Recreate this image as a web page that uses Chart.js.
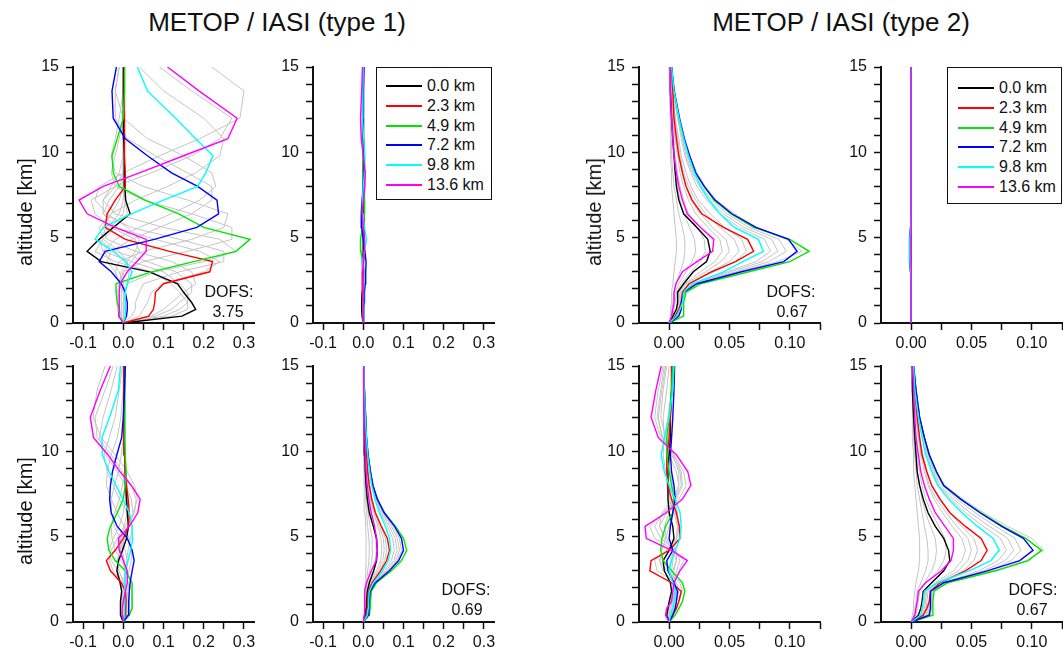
<!DOCTYPE html>
<html>
<head>
<meta charset="utf-8">
<script src="https://cdn.jsdelivr.net/npm/chart.js@4.4.0/dist/chart.umd.min.js"></script>
<style>
  body { margin: 0; width: 1063px; height: 652px; overflow: hidden; background: #fff; position: relative;
         font-family: "Liberation Sans", Arial, sans-serif; color: #111; }
  canvas { position: absolute; }
  .txt { position: absolute; white-space: nowrap; }
  .title { font-size: 26px; line-height: 26px; width: 560px; text-align: center; }
  .ylab { font-size: 20px; line-height: 20px; transform: translate(-50%, -50%) rotate(-90deg); }
  .dofs { font-size: 16px; line-height: 16px; width: 80px; text-align: center; }
  .legend { position: absolute; border: 1px solid #111; background: #fff; box-sizing: border-box; z-index: 5; }
  .legend .row { position: absolute; font-size: 16px; line-height: 16px; }
  .legend .swatch { position: absolute; height: 2px; }
</style>
</head>
<body>
<script>
/* Averaging kernels, METOP / IASI type 1 and type 2
   one profile per level, x = kernel value, y = altitude */

// ─── Data ────────────────────────────────────────────────────────────
const altitudeKm = [0, 0.4, 0.8, 1.2, 1.8, 2.3, 3.0, 3.6, 4.2, 4.9, 5.6, 6.4, 7.2, 8.0, 8.8, 9.8, 10.8, 12.0, 13.6, 15.0];

const legendLabels = ['0.0 km', '2.3 km', '4.9 km', '7.2 km', '9.8 km', '13.6 km'];
const kernelColors = ['#000000', '#ff0000', '#00e600', '#0000ff', '#00ffff', '#ff00ff'];

const yTicks = [0, 1, 2, 3, 4, 5, 6, 7, 8, 9, 10, 11, 12, 13, 14, 15];
const yLabels = ['0', '', '', '', '', '5', '', '', '', '', '10', '', '', '', '', '15'];
const xTicksType1 = [-0.1, -0.05, 0, 0.05, 0.1, 0.15, 0.2, 0.25, 0.3];
const xLabelsType1 = ['-0.1', '', '0.0', '', '0.1', '', '0.2', '', '0.3'];
const xTicksType2 = [0, 0.025, 0.05, 0.075, 0.1, 0.125];
const xLabelsType2 = ['0.00', '', '0.05', '', '0.10', ''];

// type 1, upper left (coloured: 0.0, 2.3, 4.9, 7.2, 9.8, 13.6 km)
const t1UpperLeft = [
    [0, 0.146, 0.18, 0.17, 0.15, 0.135, 0.065, -0.055, -0.09, -0.06, -0.025, 0.017, 0.006, 0.004, 0.003, 0.002, 0.001, 0.001, 0, 0],
    [0, 0.063, 0.075, 0.078, 0.08, 0.1, 0.215, 0.222, 0.115, 0.005, -0.045, -0.04, -0.02, 0.005, 0.005, 0.003, 0.003, 0.003, 0.003, 0.003],
    [0, -0.01, -0.01, -0.015, -0.018, -0.018, 0.07, 0.175, 0.28, 0.315, 0.2, 0.138, 0.054, -0.01, -0.025, -0.028, -0.015, 0, 0.003, 0.003],
    [0, 0.008, 0.01, 0.01, 0.005, -0.005, -0.03, -0.06, -0.045, 0.077, 0.183, 0.237, 0.233, 0.185, 0.12, 0.06, 0.005, -0.025, -0.028, -0.017],
    [0, 0.005, 0.005, 0.005, 0.005, 0.01, 0.022, 0.005, -0.025, -0.07, -0.05, 0.02, 0.1, 0.185, 0.205, 0.223, 0.18, 0.13, 0.06, 0.035],
    [0, -0.012, -0.01, -0.01, -0.01, -0.008, 0.01, 0.034, 0.057, 0.057, -0.02, -0.09, -0.11, -0.05, 0.04, 0.15, 0.26, 0.283, 0.188, 0.11]
];
const t1UpperLeftGray = [
    [0, 0.12, 0.16, 0.16, 0.14, 0.12, 0.07, -0.02, -0.07, -0.05, -0.02, 0.01, 0.005, 0, 0, 0, 0, 0, 0, 0],
    [0, 0.1, 0.14, 0.16, 0.16, 0.14, 0.1, 0.02, -0.05, -0.06, -0.03, 0, 0.005, 0, 0, 0, 0, 0, 0, 0],
    [0, 0.08, 0.12, 0.14, 0.17, 0.17, 0.13, 0.06, -0.02, -0.06, -0.04, -0.01, 0, 0, 0, 0, 0, 0, 0, 0],
    [0, 0.07, 0.1, 0.12, 0.15, 0.18, 0.17, 0.12, 0.03, -0.04, -0.05, -0.03, -0.01, 0, 0, 0, 0, 0, 0, 0],
    [0, 0.04, 0.05, 0.06, 0.07, 0.1, 0.2, 0.24, 0.19, 0.08, -0.02, -0.05, -0.035, -0.01, 0.005, 0.003, 0.002, 0, 0, 0],
    [0, 0.02, 0.03, 0.03, 0.04, 0.05, 0.14, 0.25, 0.25, 0.14, 0.02, -0.05, -0.05, -0.02, 0, 0.003, 0.002, 0, 0, 0],
    [0, 0, 0, 0, 0, 0.01, 0.08, 0.2, 0.28, 0.24, 0.1, -0.02, -0.05, -0.03, -0.01, 0, 0, 0, 0, 0],
    [0, -0.01, -0.015, -0.015, -0.015, -0.01, 0, 0.05, 0.16, 0.27, 0.27, 0.17, 0.05, -0.02, -0.03, -0.02, -0.01, 0, 0, 0],
    [0, -0.005, -0.01, -0.01, -0.01, -0.01, -0.02, -0.01, 0.05, 0.17, 0.25, 0.26, 0.16, 0.05, -0.02, -0.03, -0.02, -0.01, 0, 0],
    [0, 0.005, 0.005, 0.005, 0, -0.01, -0.02, -0.04, -0.03, 0.02, 0.09, 0.17, 0.22, 0.22, 0.16, 0.08, 0.01, -0.02, -0.02, -0.01],
    [0, 0.005, 0.005, 0.005, 0.005, 0, -0.01, -0.03, -0.05, -0.02, 0.04, 0.12, 0.19, 0.23, 0.22, 0.15, 0.06, 0, -0.02, -0.01],
    [0, 0, 0, 0, 0.005, 0.01, 0.015, 0.01, -0.01, -0.05, -0.06, -0.03, 0.03, 0.11, 0.18, 0.24, 0.25, 0.2, 0.1, 0.04],
    [0, -0.005, -0.005, -0.005, -0.005, 0, 0, 0.02, 0.04, 0.03, -0.03, -0.07, -0.08, -0.02, 0.07, 0.17, 0.24, 0.27, 0.17, 0.09],
    [0, -0.005, -0.01, -0.01, -0.01, -0.01, -0.005, 0.01, 0.03, 0.04, 0.01, -0.04, -0.07, -0.06, 0, 0.09, 0.19, 0.29, 0.3, 0.22]
];

// type 1, upper right
const t1UpperRight = [
    [0, -0.003, -0.004, -0.004, -0.003, -0.002, -0.002, -0.001, 0, 0, 0, 0, 0, 0, 0, 0, 0, 0, 0, 0],
    [0, 0.001, 0.001, 0, -0.002, -0.003, -0.002, 0.001, 0.003, 0.003, 0.002, 0.003, 0.004, 0.002, 0, 0, 0.001, 0.001, 0, 0],
    [0, 0, 0, 0, 0, 0.001, 0.002, -0.002, -0.006, -0.007, -0.002, 0.003, 0.003, 0.001, 0, -0.001, 0, 0, 0, 0],
    [0, 0.001, 0.001, 0.002, 0.003, 0.005, 0.006, 0.007, 0.004, 0, -0.004, -0.005, -0.003, 0, 0.002, 0.002, 0.001, 0, 0.001, 0.002],
    [0, 0.001, 0.001, 0.001, 0.001, 0.001, 0, -0.002, 0.003, 0.008, 0.003, -0.001, -0.002, 0, 0.003, 0.004, 0.001, -0.002, -0.001, 0],
    [0, 0, 0, 0, 0, 0, 0, 0, 0.002, 0.003, 0, -0.003, 0, 0.004, 0.005, 0, -0.005, -0.007, -0.004, -0.002]
];
const t1UpperRightGray = [
    [0, -0.002, -0.003, -0.003, -0.002, 0, 0.002, 0.002, 0.001, 0, 0, 0, 0, 0, 0, 0, 0, 0, 0, 0],
    [0, 0, 0.001, 0.002, 0.003, 0.004, 0.002, -0.001, -0.003, -0.002, 0, 0.001, 0.001, 0, 0, 0, 0, 0, 0, 0],
    [0, 0, 0, 0, 0, 0, -0.002, -0.005, -0.003, 0.002, 0.004, 0.002, -0.001, -0.002, 0, 0.001, 0, 0, 0, 0],
    [0, 0, 0, 0, 0, 0, 0, 0.001, 0.002, 0.001, -0.002, -0.003, -0.001, 0.002, 0.003, 0.001, -0.003, -0.004, -0.003, -0.001]
];

// type 1, lower left
const t1LowerLeft = [
    [0, -0.007, -0.008, -0.006, -0.004, -0.008, -0.016, -0.012, -0.002, 0.008, 0.013, 0.01, 0.008, 0.006, 0.005, 0.004, 0.003, 0.002, 0.002, 0.002],
    [0, 0.005, 0.006, 0.007, 0.005, -0.005, -0.032, -0.042, -0.02, 0, 0.013, 0.015, 0.012, 0.008, 0.005, 0.003, 0.002, 0.001, 0.001, 0.001],
    [0, 0.015, 0.022, 0.022, 0.022, 0.022, 0.005, -0.02, -0.036, -0.04, -0.032, -0.015, 0, 0.005, 0.007, 0.005, 0.004, 0.004, 0.004, 0.005],
    [0, 0.012, 0.013, 0.014, 0.015, 0.017, 0.022, 0.027, 0.022, 0.01, -0.015, -0.03, -0.034, -0.032, -0.027, -0.016, -0.004, 0, 0.003, 0.005],
    [0, 0.003, 0.004, 0.004, 0.003, 0.002, 0.005, 0.012, 0.018, 0.024, 0.022, 0.015, -0.001, -0.018, -0.035, -0.052, -0.053, -0.034, -0.012, -0.007],
    [0, -0.002, -0.003, 0, 0.005, 0.01, 0.01, 0, -0.01, -0.012, 0.015, 0.036, 0.042, 0.02, -0.008, -0.038, -0.074, -0.082, -0.057, -0.032]
];
const t1LowerLeftGray = [
    [0, 0, -0.002, 0, 0.003, 0.006, 0.006, 0.002, -0.006, -0.01, 0.005, 0.025, 0.035, 0.028, 0.01, -0.02, -0.055, -0.075, -0.065, -0.045],
    [0, 0.002, 0.001, 0.002, 0.004, 0.006, 0.005, 0, -0.008, -0.006, 0.01, 0.028, 0.032, 0.02, -0.002, -0.03, -0.065, -0.07, -0.045, -0.025],
    [0, 0.002, 0.003, 0.004, 0.004, 0.005, 0.004, 0.002, -0.002, 0.002, 0.014, 0.024, 0.02, 0.006, -0.015, -0.045, -0.06, -0.05, -0.03, -0.015],
    [0, 0.003, 0.004, 0.004, 0.005, 0.004, 0.005, 0.008, 0.012, 0.018, 0.022, 0.01, -0.01, -0.025, -0.04, -0.048, -0.035, -0.02, -0.01, -0.002],
    [0, 0.005, 0.006, 0.007, 0.008, 0.01, 0.014, 0.02, 0.02, 0.015, 0.002, -0.015, -0.03, -0.042, -0.04, -0.03, -0.015, -0.006, 0, 0.002],
    [0, 0.012, 0.014, 0.015, 0.015, 0.012, 0.008, 0.01, 0.005, -0.008, -0.022, -0.03, -0.03, -0.022, -0.012, -0.005, 0, 0.002, 0.004, 0.005],
    [0, 0.015, 0.02, 0.02, 0.02, 0.018, 0.01, -0.006, -0.02, -0.028, -0.03, -0.022, -0.01, -0.002, 0.004, 0.005, 0.004, 0.004, 0.004, 0.005],
    [0, 0.008, 0.012, 0.012, 0.01, 0.005, -0.012, -0.03, -0.035, -0.025, -0.01, 0, 0.006, 0.008, 0.007, 0.005, 0.003, 0.002, 0.002, 0.002],
    [0, 0.006, 0.008, 0.009, 0.006, -0.002, -0.025, -0.035, -0.03, -0.015, 0.002, 0.01, 0.012, 0.009, 0.006, 0.004, 0.003, 0.002, 0.001, 0.001],
    [0, -0.002, -0.003, -0.002, 0, 0, -0.01, -0.015, -0.008, 0.003, 0.01, 0.012, 0.01, 0.007, 0.005, 0.004, 0.003, 0.002, 0.002, 0.002],
    [0, -0.005, -0.006, -0.005, -0.003, -0.006, -0.014, -0.01, 0, 0.008, 0.012, 0.01, 0.008, 0.006, 0.005, 0.004, 0.003, 0.002, 0.002, 0.002]
];

// type 1, lower right
const t1LowerRight = [
    [0, 0.005, 0.007, 0.008, 0.01, 0.015, 0.026, 0.033, 0.035, 0.033, 0.025, 0.015, 0.01, 0.007, 0.005, 0.004, 0.003, 0.002, 0.001, 0.001],
    [0, 0.008, 0.01, 0.011, 0.013, 0.022, 0.043, 0.058, 0.065, 0.06, 0.045, 0.03, 0.021, 0.015, 0.011, 0.008, 0.006, 0.004, 0.002, 0.001],
    [0, 0.015, 0.017, 0.018, 0.02, 0.033, 0.07, 0.095, 0.108, 0.1, 0.08, 0.053, 0.035, 0.024, 0.018, 0.012, 0.008, 0.006, 0.003, 0.002],
    [0, 0.012, 0.014, 0.015, 0.017, 0.03, 0.065, 0.088, 0.1, 0.095, 0.078, 0.052, 0.035, 0.024, 0.018, 0.012, 0.008, 0.006, 0.003, 0.002],
    [0, 0.01, 0.012, 0.013, 0.015, 0.025, 0.048, 0.062, 0.068, 0.065, 0.055, 0.04, 0.029, 0.021, 0.016, 0.011, 0.008, 0.005, 0.003, 0.002],
    [0, 0.002, 0.003, 0.003, 0.004, 0.008, 0.02, 0.032, 0.035, 0.033, 0.028, 0.02, 0.014, 0.01, 0.007, 0.005, 0.004, 0.002, 0.001, 0.001]
];
const t1LowerRightGray = [
    [0, 0.002, 0.003, 0.003, 0.004, 0.005, 0.006, 0.007, 0.007, 0.007, 0.006, 0.004, 0.003, 0.002, 0.002, 0.001, 0.001, 0.001, 0, 0],
    [0, 0.003, 0.004, 0.005, 0.006, 0.008, 0.011, 0.014, 0.015, 0.014, 0.011, 0.008, 0.006, 0.004, 0.003, 0.002, 0.002, 0.001, 0.001, 0],
    [0, 0.004, 0.005, 0.006, 0.007, 0.01, 0.016, 0.021, 0.023, 0.022, 0.017, 0.012, 0.008, 0.006, 0.004, 0.003, 0.002, 0.002, 0.001, 0.001],
    [0, 0.005, 0.006, 0.007, 0.008, 0.013, 0.024, 0.03, 0.032, 0.031, 0.025, 0.018, 0.013, 0.009, 0.007, 0.005, 0.004, 0.003, 0.002, 0.001],
    [0, 0.006, 0.008, 0.009, 0.01, 0.016, 0.033, 0.043, 0.046, 0.044, 0.036, 0.026, 0.018, 0.013, 0.01, 0.007, 0.005, 0.004, 0.002, 0.001],
    [0, 0.007, 0.009, 0.01, 0.011, 0.018, 0.037, 0.048, 0.052, 0.05, 0.04, 0.029, 0.02, 0.015, 0.011, 0.008, 0.006, 0.004, 0.002, 0.001],
    [0, 0.008, 0.01, 0.011, 0.012, 0.02, 0.041, 0.053, 0.058, 0.055, 0.044, 0.031, 0.022, 0.016, 0.012, 0.009, 0.006, 0.004, 0.002, 0.001],
    [0, 0.01, 0.012, 0.013, 0.015, 0.026, 0.053, 0.07, 0.077, 0.073, 0.06, 0.043, 0.03, 0.021, 0.016, 0.011, 0.008, 0.005, 0.003, 0.002],
    [0, 0.011, 0.013, 0.014, 0.016, 0.028, 0.057, 0.076, 0.084, 0.079, 0.065, 0.046, 0.032, 0.022, 0.017, 0.011, 0.008, 0.005, 0.003, 0.002],
    [0, 0.011, 0.013, 0.014, 0.016, 0.029, 0.06, 0.081, 0.09, 0.085, 0.07, 0.049, 0.033, 0.023, 0.017, 0.012, 0.008, 0.006, 0.003, 0.002],
    [0, 0.012, 0.014, 0.015, 0.017, 0.03, 0.063, 0.085, 0.095, 0.09, 0.074, 0.051, 0.034, 0.024, 0.018, 0.012, 0.008, 0.006, 0.003, 0.002]
];

// type 2, upper left
const t2UpperLeft = [
    [0, 0.003, 0.006, 0.007, 0.007, 0.012, 0.02, 0.031, 0.034, 0.032, 0.023, 0.012, 0.008, 0.006, 0.005, 0.004, 0.003, 0.002, 0.001, 0.001],
    [0, 0.005, 0.008, 0.01, 0.011, 0.0165, 0.035, 0.055, 0.07, 0.065, 0.045, 0.027, 0.019, 0.014, 0.011, 0.008, 0.006, 0.004, 0.003, 0.002],
    [0, 0.012, 0.012, 0.012, 0.014, 0.026, 0.066, 0.1, 0.116, 0.1, 0.07, 0.051, 0.037, 0.029, 0.022, 0.0165, 0.0124, 0.0083, 0.004, 0.002],
    [0, 0.008, 0.01, 0.01, 0.012, 0.023, 0.06, 0.095, 0.106, 0.099, 0.072, 0.052, 0.038, 0.029, 0.022, 0.017, 0.0125, 0.0085, 0.0042, 0.002],
    [0, 0.006, 0.009, 0.011, 0.012, 0.019, 0.045, 0.061, 0.078, 0.074, 0.054, 0.042, 0.033, 0.026, 0.021, 0.016, 0.012, 0.0082, 0.004, 0.002],
    [0, 0.002, 0.003, 0.004, 0.004, 0.0055, 0.011, 0.023, 0.036, 0.037, 0.026, 0.015, 0.011, 0.008, 0.006, 0.004, 0.003, 0.002, 0.001, 0.001]
];
const t2UpperLeftGray = [
    [0, 0.001, 0.001, 0.002, 0.002, 0.003, 0.004, 0.005, 0.006, 0.006, 0.005, 0.004, 0.003, 0.002, 0.002, 0.001, 0.001, 0.001, 0, 0],
    [0, 0.002, 0.002, 0.003, 0.004, 0.006, 0.009, 0.012, 0.013, 0.013, 0.011, 0.008, 0.006, 0.004, 0.003, 0.002, 0.002, 0.001, 0.001, 0],
    [0, 0.002, 0.003, 0.004, 0.005, 0.008, 0.014, 0.019, 0.022, 0.021, 0.017, 0.012, 0.009, 0.007, 0.005, 0.004, 0.003, 0.002, 0.001, 0.001],
    [0, 0.003, 0.004, 0.005, 0.006, 0.01, 0.018, 0.026, 0.03, 0.029, 0.023, 0.016, 0.012, 0.009, 0.007, 0.005, 0.004, 0.003, 0.001, 0.001],
    [0, 0.004, 0.006, 0.007, 0.008, 0.013, 0.026, 0.038, 0.044, 0.042, 0.032, 0.022, 0.016, 0.012, 0.009, 0.007, 0.005, 0.003, 0.002, 0.001],
    [0, 0.005, 0.007, 0.008, 0.009, 0.014, 0.03, 0.043, 0.05, 0.047, 0.036, 0.026, 0.018, 0.014, 0.011, 0.008, 0.006, 0.004, 0.002, 0.001],
    [0, 0.005, 0.008, 0.009, 0.01, 0.016, 0.034, 0.05, 0.058, 0.054, 0.042, 0.03, 0.022, 0.016, 0.012, 0.009, 0.007, 0.005, 0.002, 0.001],
    [0, 0.006, 0.008, 0.009, 0.011, 0.017, 0.037, 0.055, 0.064, 0.06, 0.046, 0.034, 0.024, 0.018, 0.014, 0.01, 0.008, 0.005, 0.003, 0.001],
    [0, 0.007, 0.009, 0.01, 0.012, 0.02, 0.048, 0.072, 0.084, 0.079, 0.058, 0.042, 0.031, 0.023, 0.018, 0.013, 0.01, 0.007, 0.003, 0.002],
    [0, 0.007, 0.01, 0.011, 0.013, 0.021, 0.051, 0.077, 0.09, 0.085, 0.062, 0.045, 0.033, 0.025, 0.019, 0.014, 0.011, 0.007, 0.004, 0.002],
    [0, 0.008, 0.01, 0.011, 0.013, 0.022, 0.055, 0.083, 0.097, 0.091, 0.066, 0.048, 0.035, 0.027, 0.02, 0.015, 0.011, 0.008, 0.004, 0.002],
    [0, 0.008, 0.01, 0.011, 0.013, 0.022, 0.057, 0.09, 0.11, 0.097, 0.072, 0.054, 0.039, 0.03, 0.023, 0.017, 0.013, 0.009, 0.004, 0.002]
];

// type 2, upper right
const t2UpperRight = [
    [0, 0, 0, 0, 0, 0, 0, 0, 0, 0, 0, 0, 0, 0, 0, 0, 0, 0, 0, 0],
    [0, 0, 0, 0, 0, 0, 0, 0, 0, 0, 0, 0, 0, 0, 0, 0, 0, 0, 0, 0],
    [0, 0, 0, 0, 0, 0, -0.0005, -0.001, -0.001, -0.001, -0.0005, 0, 0, 0, 0, 0, 0, 0, 0, 0],
    [0, 0, 0, 0, 0, 0, -0.0005, -0.0012, -0.0015, -0.0012, -0.0005, 0, 0, 0, 0, 0, 0, 0, 0, 0],
    [0, 0, 0, 0, 0, 0, -0.0003, -0.001, -0.0012, -0.001, -0.0004, 0, 0, 0, 0, 0, 0, 0, 0, 0],
    [0, 0, 0, 0, 0, 0, 0, 0, 0, 0, 0, 0, 0, 0, 0, 0, 0, 0, 0, 0]
];
const t2UpperRightGray = [
    [0, 0, 0, 0, 0, 0, -0.0004, -0.0009, -0.001, -0.0008, -0.0003, 0, 0, 0, 0, 0, 0, 0, 0, 0]
];

// type 2, lower left
const t2LowerLeft = [
    [0, -0.002, -0.001, 0, 0.002, 0.001, -0.004, -0.005, 0, 0.004, 0.003, 0, -0.001, -0.001, -0.001, 0, 0.001, 0.001, 0.002, 0.002],
    [0, 0.003, 0.006, 0.008, 0.01, 0.002, -0.016, -0.015, 0, 0.009, 0.0085, 0.006, 0.002, -0.001, -0.002, -0.002, 0, 0.001, 0.002, 0.002],
    [0, 0.005, 0.008, 0.011, 0.013, 0.011, 0.002, -0.005, -0.007, -0.006, -0.003, 0.003, 0.004, 0.002, 0, -0.002, -0.002, 0, 0.002, 0.003],
    [0, 0.003, 0.005, 0.006, 0.007, 0.004, -0.001, -0.002, 0.003, 0, 0.001, 0.003, 0.005, 0.004, 0.002, 0.001, 0.002, 0.003, 0.004, 0.0045],
    [0, 0.001, 0.003, 0.004, 0.005, 0.003, 0, 0.002, 0.005, 0.009, 0.01, 0.009, 0.005, 0, -0.004, -0.0066, -0.004, 0, 0.003, 0.004],
    [0, -0.003, -0.002, 0.002, 0.003, 0.004, 0.009, 0.015, 0.002, -0.019, -0.02, -0.0025, 0.011, 0.018, 0.0155, 0.006, -0.009, -0.015, -0.011, -0.0066]
];
const t2LowerLeftGray = [
    [0, -0.003, -0.002, 0.001, 0.003, 0.004, 0.008, 0.012, 0.004, -0.012, -0.016, -0.004, 0.008, 0.014, 0.012, 0.004, -0.007, -0.012, -0.009, -0.005],
    [0, -0.002, -0.001, 0.002, 0.004, 0.005, 0.006, 0.009, 0.005, -0.007, -0.012, -0.005, 0.006, 0.011, 0.01, 0.004, -0.005, -0.01, -0.007, -0.004],
    [0, -0.001, 0, 0.003, 0.005, 0.005, 0.003, 0.006, 0.006, -0.002, -0.008, -0.006, 0.003, 0.008, 0.008, 0.003, -0.003, -0.007, -0.005, -0.002],
    [0, 0.001, 0.002, 0.004, 0.006, 0.004, -0.005, -0.008, -0.002, 0.006, 0.007, 0.004, 0, -0.002, -0.002, -0.001, 0, 0.001, 0.002, 0.002],
    [0, 0.002, 0.004, 0.006, 0.008, 0.006, -0.01, -0.012, -0.002, 0.007, 0.008, 0.005, 0.001, -0.001, -0.002, -0.002, -0.001, 0.001, 0.002, 0.002],
    [0, 0.003, 0.005, 0.008, 0.011, 0.009, -0.002, -0.008, -0.006, -0.003, 0, 0.003, 0.004, 0.003, 0.001, -0.001, -0.001, 0, 0.002, 0.003],
    [0, 0.001, 0.003, 0.005, 0.006, 0.004, 0, 0.001, 0.004, 0.006, 0.007, 0.007, 0.004, 0, -0.003, -0.005, -0.004, -0.001, 0.002, 0.003],
    [0, 0, 0.001, 0.003, 0.004, 0.003, 0.002, 0.003, 0.002, -0.002, -0.004, 0, 0.005, 0.008, 0.006, 0, -0.004, -0.005, -0.002, 0],
    [0, -0.001, 0, 0.002, 0.003, 0.004, 0.004, 0.006, 0.003, -0.004, -0.008, -0.002, 0.005, 0.01, 0.009, 0.002, -0.006, -0.009, -0.006, -0.003]
];

// type 2, lower right
const t2LowerRight = [
    [0, 0.006, 0.008, 0.009, 0.01, 0.017, 0.027, 0.032, 0.031, 0.027, 0.02, 0.014, 0.01, 0.007, 0.005, 0.004, 0.003, 0.002, 0.001, 0.001],
    [0, 0.01, 0.013, 0.015, 0.016, 0.024, 0.045, 0.058, 0.063, 0.058, 0.045, 0.032, 0.024, 0.017, 0.013, 0.009, 0.007, 0.005, 0.003, 0.001],
    [0, 0.018, 0.018, 0.018, 0.019, 0.03, 0.07, 0.097, 0.108, 0.095, 0.076, 0.058, 0.041, 0.027, 0.021, 0.015, 0.011, 0.007, 0.004, 0.002],
    [0, 0.015, 0.016, 0.016, 0.016, 0.027, 0.063, 0.09, 0.101, 0.093, 0.075, 0.057, 0.041, 0.027, 0.021, 0.015, 0.011, 0.007, 0.004, 0.002],
    [0, 0.008, 0.009, 0.01, 0.011, 0.022, 0.048, 0.066, 0.073, 0.068, 0.055, 0.042, 0.031, 0.022, 0.017, 0.012, 0.009, 0.006, 0.003, 0.002],
    [0, 0.003, 0.004, 0.005, 0.006, 0.012, 0.025, 0.033, 0.035, 0.035, 0.028, 0.02, 0.015, 0.011, 0.008, 0.006, 0.004, 0.003, 0.002, 0.001]
];
const t2LowerRightGray = [
    [0, 0.001, 0.002, 0.002, 0.003, 0.004, 0.006, 0.007, 0.007, 0.007, 0.006, 0.005, 0.004, 0.003, 0.002, 0.002, 0.001, 0.001, 0.001, 0],
    [0, 0.002, 0.003, 0.004, 0.005, 0.008, 0.012, 0.014, 0.014, 0.013, 0.011, 0.009, 0.007, 0.005, 0.004, 0.003, 0.002, 0.002, 0.001, 0],
    [0, 0.003, 0.004, 0.005, 0.006, 0.011, 0.017, 0.02, 0.021, 0.02, 0.016, 0.012, 0.009, 0.007, 0.005, 0.004, 0.003, 0.002, 0.001, 0.001],
    [0, 0.004, 0.005, 0.006, 0.007, 0.012, 0.022, 0.027, 0.029, 0.028, 0.023, 0.017, 0.012, 0.009, 0.007, 0.005, 0.004, 0.003, 0.002, 0.001],
    [0, 0.008, 0.01, 0.011, 0.012, 0.02, 0.035, 0.042, 0.045, 0.042, 0.034, 0.026, 0.019, 0.014, 0.011, 0.008, 0.006, 0.004, 0.002, 0.001],
    [0, 0.009, 0.011, 0.012, 0.013, 0.022, 0.039, 0.047, 0.05, 0.047, 0.038, 0.029, 0.021, 0.015, 0.012, 0.009, 0.006, 0.004, 0.002, 0.001],
    [0, 0.01, 0.012, 0.013, 0.014, 0.024, 0.043, 0.052, 0.055, 0.052, 0.042, 0.032, 0.023, 0.017, 0.013, 0.01, 0.007, 0.005, 0.003, 0.001],
    [0, 0.012, 0.014, 0.015, 0.016, 0.027, 0.056, 0.072, 0.079, 0.074, 0.06, 0.045, 0.033, 0.023, 0.018, 0.013, 0.01, 0.006, 0.003, 0.002],
    [0, 0.013, 0.015, 0.016, 0.017, 0.028, 0.06, 0.078, 0.085, 0.08, 0.065, 0.049, 0.035, 0.024, 0.019, 0.014, 0.01, 0.007, 0.004, 0.002],
    [0, 0.014, 0.016, 0.016, 0.017, 0.029, 0.064, 0.083, 0.091, 0.086, 0.07, 0.053, 0.038, 0.026, 0.02, 0.014, 0.01, 0.007, 0.004, 0.002],
    [0, 0.016, 0.017, 0.017, 0.018, 0.031, 0.068, 0.095, 0.11, 0.1, 0.08, 0.06, 0.043, 0.028, 0.021, 0.015, 0.011, 0.007, 0.004, 0.002]
];

// ─── Layout ──────────────────────────────────────────────────────────
const FONT = '"Liberation Sans", Arial, sans-serif';
const COL_LEFT = [73, 313, 639, 881];
const ROW_TOP = [67, 366];
const PLOT_W = 181, PLOT_H = 256;
const Y_AXIS_W = 60, X_AXIS_H = 40, PAD_TOP = 20, PAD_RIGHT = 24;
const AXIS_COLOR = '#111';
const GRAY = '#c4c4c4';

const xAxisType1 = { min: -0.125, max: 0.325, ticks: xTicksType1, labels: xLabelsType1 };
const xAxisType2 = { min: -0.025, max: 0.125, ticks: xTicksType2, labels: xLabelsType2 };

function toPoints(values) {
    return values.map((v, i) => ({ x: v, y: altitudeKm[i] }));
}

function drawPanel(col, row, xAxis, kernels, grayKernels) {
    const cv = document.createElement('canvas');
    cv.width = Y_AXIS_W + PLOT_W + PAD_RIGHT;
    cv.height = PAD_TOP + PLOT_H + X_AXIS_H;
    cv.style.left = (COL_LEFT[col] - Y_AXIS_W) + 'px';
    cv.style.top = (ROW_TOP[row] - PAD_TOP) + 'px';
    document.body.appendChild(cv);

    // first dataset is painted last, so coloured kernels go first (magenta on top)
    const datasets = [];
    for (let i = kernels.length - 1; i >= 0; i--) {
        datasets.push({ data: toPoints(kernels[i]), borderColor: kernelColors[i], borderWidth: 1.4 });
    }
    grayKernels.forEach(g => datasets.push({ data: toPoints(g), borderColor: GRAY, borderWidth: 1 }));
    datasets.forEach(d => Object.assign(d, { showLine: true, pointRadius: 0, fill: false, tension: 0 }));

    const tickFont = { family: FONT, size: 16 };
    new Chart(cv, {
        type: 'scatter',
        data: { datasets },
        options: {
            responsive: false,
            animation: false,
            layout: { padding: { top: PAD_TOP, right: PAD_RIGHT, left: 0, bottom: 0 } },
            plugins: { legend: { display: false }, tooltip: { enabled: false } },
            scales: {
                x: {
                    type: 'linear', min: xAxis.min, max: xAxis.max,
                    border: { display: true, color: AXIS_COLOR, width: 2 },
                    grid: { drawOnChartArea: false, drawTicks: true, tickLength: 7, tickWidth: 1.5, tickColor: AXIS_COLOR },
                    ticks: { autoSkip: false, maxRotation: 0, padding: 4, color: AXIS_COLOR, font: tickFont,
                             callback: (v, i) => xAxis.labels[i] },
                    afterBuildTicks: s => { s.ticks = xAxis.ticks.map(v => ({ value: v })); },
                    afterFit: s => { s.height = X_AXIS_H; }
                },
                y: {
                    type: 'linear', min: 0, max: 15,
                    border: { display: true, color: AXIS_COLOR, width: 2 },
                    grid: { drawOnChartArea: false, drawTicks: true, tickLength: 7, tickWidth: 1.5, tickColor: AXIS_COLOR },
                    ticks: { autoSkip: false, padding: 7, color: AXIS_COLOR, font: tickFont,
                             callback: (v, i) => yLabels[i] },
                    afterBuildTicks: s => { s.ticks = yTicks.map(v => ({ value: v })); },
                    afterFit: s => { s.width = Y_AXIS_W; }
                }
            }
        }
    });
}

function addText(cls, text, left, top) {
    const d = document.createElement('div');
    d.className = 'txt ' + cls;
    d.textContent = text;
    d.style.left = left + 'px';
    d.style.top = top + 'px';
    document.body.appendChild(d);
    return d;
}

function addLegend(box, lineX0, lineX1, textX, firstBaseline, step) {
    const lg = document.createElement('div');
    lg.className = 'legend';
    lg.style.left = box[0] + 'px';
    lg.style.top = box[1] + 'px';
    lg.style.width = (box[2] - box[0]) + 'px';
    lg.style.height = (box[3] - box[1]) + 'px';
    legendLabels.forEach((label, i) => {
        const base = Math.round(firstBaseline + i * step - box[1]);
        const sw = document.createElement('div');
        sw.className = 'swatch';
        sw.style.background = kernelColors[i];
        sw.style.left = (lineX0 - box[0]) + 'px';
        sw.style.width = (lineX1 - lineX0) + 'px';
        sw.style.top = (base - 6) + 'px';
        lg.appendChild(sw);
        const t = document.createElement('div');
        t.className = 'row';
        t.textContent = label;
        t.style.left = (textX - box[0]) + 'px';
        t.style.top = (base - 13.5) + 'px';
        lg.appendChild(t);
    });
    document.body.appendChild(lg);
}

// ─── Panels ──────────────────────────────────────────────────────────
drawPanel(0, 0, xAxisType1, t1UpperLeft, t1UpperLeftGray);
drawPanel(1, 0, xAxisType1, t1UpperRight, t1UpperRightGray);
drawPanel(0, 1, xAxisType1, t1LowerLeft, t1LowerLeftGray);
drawPanel(1, 1, xAxisType1, t1LowerRight, t1LowerRightGray);
drawPanel(2, 0, xAxisType2, t2UpperLeft, t2UpperLeftGray);
drawPanel(3, 0, xAxisType2, t2UpperRight, t2UpperRightGray);
drawPanel(2, 1, xAxisType2, t2LowerLeft, t2LowerLeftGray);
drawPanel(3, 1, xAxisType2, t2LowerRight, t2LowerRightGray);

// ─── Texts ───────────────────────────────────────────────────────────
addText('title', 'METOP / IASI (type 1)', 277 - 280, 8.7);
addText('title', 'METOP / IASI (type 2)', 841 - 280, 8.7);

addText('ylab', 'altitude [km]', 25, 212);
addText('ylab', 'altitude [km]', 25, 511);
addText('ylab', 'altitude [km]', 594, 212);

addText('dofs', 'DOFS:', 229 - 40, 297 - 13.5);
addText('dofs', '3.75', 228 - 40, 317 - 13.5);
addText('dofs', 'DOFS:', 791 - 40, 297 - 13.5);
addText('dofs', '0.67', 792 - 40, 317 - 13.5);
addText('dofs', 'DOFS:', 466 - 40, 595 - 13.5);
addText('dofs', '0.69', 467 - 40, 615 - 13.5);
addText('dofs', 'DOFS:', 1033 - 40, 595 - 13.5);
addText('dofs', '0.67', 1032 - 40, 615 - 13.5);

addLegend([376, 67, 492, 200], 385, 421, 426, 90, 19.8);
addLegend([947, 67, 1062, 204], 957, 993, 998, 92, 19.8);
</script>
</body>
</html>
